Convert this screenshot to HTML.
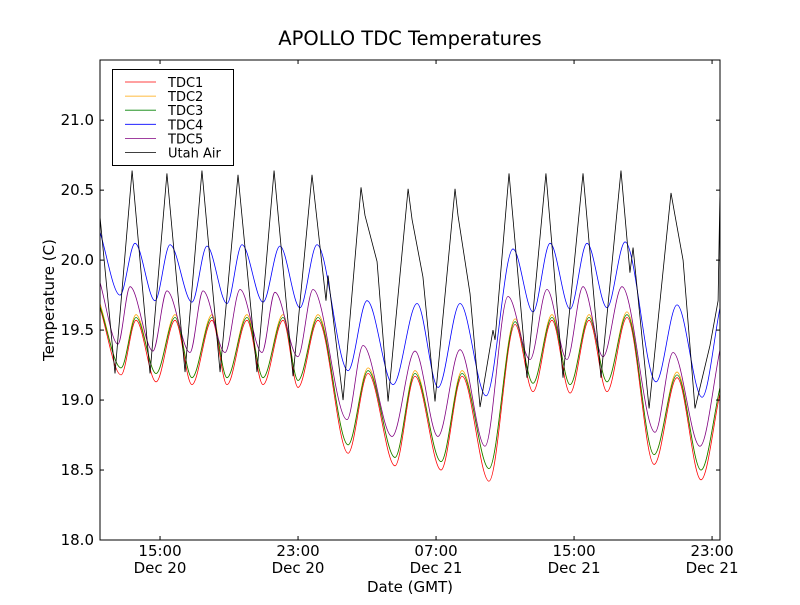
<!DOCTYPE html>
<html><head><meta charset="utf-8"><style>
body{margin:0;background:#fff;}
svg text{font-family:"DejaVu Sans","Liberation Sans",sans-serif;fill:#000;}
</style></head><body>
<svg id="chart" width="800" height="600" xmlns="http://www.w3.org/2000/svg">
<rect width="800" height="600" fill="#fff"/>
<text x="410" y="45" font-size="19.5" text-anchor="middle">APOLLO TDC Temperatures</text>
<text transform="translate(54,300) rotate(-90)" font-size="15" text-anchor="middle">Temperature (C)</text>
<text x="410" y="592" font-size="15" text-anchor="middle">Date (GMT)</text>
<g id="series"></g>
<g id="axes"></g>
<g id="legend"></g>
</svg>
<script>
const yTicks=[18.0,18.5,19.0,19.5,20.0,20.5,21.0];
const xTicks=[15,23,31,39,47];
const xTickTimes=["15:00","23:00","07:00","15:00","23:00"];
const xTickDays=["Dec 20","Dec 20","Dec 21","Dec 21","Dec 21"];
const seriesNames=["TDC1","TDC2","TDC3","TDC4","TDC5","Utah Air"];
const tdcT=[11.52,12.74,13.61,14.77,15.87,16.85,18.01,18.88,20.04,20.97,22.13,23.00,24.16,25.90,27.06,28.62,29.78,31.29,32.51,34.07,35.58,36.62,37.72,38.77,39.87,40.91,42.07,43.64,44.97,46.36,47.46];
const tdc1V=[19.66,19.18,19.57,19.13,19.57,19.11,19.57,19.11,19.57,19.11,19.57,19.09,19.57,18.62,19.19,18.53,19.17,18.50,19.17,18.42,19.54,19.06,19.57,19.05,19.57,19.06,19.59,18.54,19.16,18.43,19.05];
const tdc2V=[19.69,19.23,19.61,19.19,19.61,19.16,19.61,19.16,19.61,19.16,19.61,19.14,19.61,18.68,19.23,18.59,19.21,18.56,19.21,18.51,19.58,19.12,19.61,19.11,19.61,19.13,19.63,18.61,19.20,18.50,19.09];
const tdc3V=[19.67,19.23,19.59,19.19,19.59,19.16,19.59,19.16,19.59,19.16,19.59,19.14,19.59,18.68,19.21,18.59,19.19,18.56,19.19,18.51,19.56,19.12,19.59,19.11,19.59,19.13,19.61,18.61,19.18,18.50,19.09];
const tdc4T=[11.52,12.68,13.55,14.71,15.58,16.85,17.72,18.88,19.75,20.97,21.95,23.11,24.10,25.90,27.00,28.51,29.90,31.12,32.39,33.90,35.46,36.62,37.61,38.77,39.75,40.91,41.96,43.75,44.97,46.42,47.46];
const tdc4V=[20.20,19.75,20.12,19.71,20.11,19.70,20.10,19.69,20.11,19.70,20.10,19.66,20.11,19.21,19.71,19.11,19.69,19.09,19.69,19.03,20.08,19.63,20.12,19.65,20.12,19.66,20.13,19.13,19.68,19.02,19.66];
const tdc5T=[11.52,12.56,13.26,14.59,15.40,16.74,17.49,18.77,19.64,20.91,21.66,22.99,23.87,25.84,26.77,28.45,29.78,31.11,32.39,33.84,35.17,36.45,37.43,38.59,39.52,40.68,41.78,43.69,44.74,46.30,47.46];
const tdc5V=[19.84,19.40,19.81,19.35,19.78,19.34,19.78,19.34,19.79,19.34,19.77,19.31,19.79,18.86,19.39,18.74,19.35,18.74,19.36,18.67,19.74,19.29,19.79,19.29,19.81,19.31,19.81,18.77,19.34,18.67,19.36];
const airT=[11.52,12.39,13.38,14.42,15.40,16.45,17.43,18.48,19.52,20.62,21.61,22.71,23.81,24.62,24.74,25.61,26.65,26.88,27.58,28.22,29.38,29.61,30.24,30.94,32.10,32.27,32.97,33.55,34.30,34.42,35.23,36.27,37.37,38.36,39.52,40.56,41.72,42.24,42.42,43.35,44.62,44.85,45.32,46.01,46.88,47.35,47.46];
const airV=[20.31,19.19,20.64,19.19,20.62,19.20,20.64,19.20,20.61,19.20,20.64,19.17,20.61,19.71,19.89,19.00,20.52,20.32,19.99,18.99,20.51,20.29,19.88,18.99,20.51,20.32,19.76,18.95,19.50,19.43,20.62,19.16,20.62,19.16,20.62,19.16,20.64,19.91,20.09,18.94,20.48,20.32,20.00,18.94,19.39,19.71,20.50];

const PL=100,PR=720,PT=60,PB=540;
const X0=11.52,X1=47.46,Y0=18.0,Y1=21.43;
const sx=t=>PL+(t-X0)/(X1-X0)*(PR-PL);
const sy=v=>PB-(v-Y0)/(Y1-Y0)*(PB-PT);
const NS="http://www.w3.org/2000/svg";
function mk(tag,attrs,parent){const e=document.createElementNS(NS,tag);for(const k in attrs)e.setAttribute(k,attrs[k]);parent.appendChild(e);return e;}

function monotonePath(T,V){
  const xs=T.map(sx),ys=V.map(sy),n=xs.length;
  const d=[],m=new Array(n);
  for(let i=0;i<n-1;i++)d.push((ys[i+1]-ys[i])/(xs[i+1]-xs[i]));
  m[0]=d[0];m[n-1]=d[n-2];
  for(let i=1;i<n-1;i++){m[i]=(d[i-1]*d[i]<=0)?0:(d[i-1]+d[i])/2;}
  for(let i=0;i<n-1;i++){if(d[i]===0){m[i]=0;m[i+1]=0;continue;}
    const a=m[i]/d[i],b=m[i+1]/d[i],s=a*a+b*b;if(s>9){const t=3/Math.sqrt(s);m[i]=t*a*d[i];m[i+1]=t*b*d[i];}}
  let p="M"+xs[0].toFixed(2)+","+ys[0].toFixed(2);
  for(let i=0;i<n-1;i++){const h=(xs[i+1]-xs[i])/3;
    p+=" C"+(xs[i]+h).toFixed(2)+","+(ys[i]+m[i]*h).toFixed(2)+" "+(xs[i+1]-h).toFixed(2)+","+(ys[i+1]-m[i+1]*h).toFixed(2)+" "+xs[i+1].toFixed(2)+","+ys[i+1].toFixed(2);}
  return p;
}
function linePath(T,V){return T.map((t,i)=>(i?"L":"M")+sx(t).toFixed(2)+","+sy(V[i]).toFixed(2)).join(" ");}

const sg=document.getElementById("series");
const clip=mk("clipPath",{id:"pc"},sg);mk("rect",{x:PL,y:PT,width:PR-PL,height:PB-PT},clip);
const defs=[
 {name:"tdc1-line",d:monotonePath(tdcT,tdc1V),c:"#ff0000"},
 {name:"tdc2-line",d:monotonePath(tdcT,tdc2V),c:"#ffa500"},
 {name:"tdc3-line",d:monotonePath(tdcT,tdc3V),c:"#008000"},
 {name:"tdc4-line",d:monotonePath(tdc4T,tdc4V),c:"#0000ff"},
 {name:"tdc5-line",d:monotonePath(tdc5T,tdc5V),c:"#800080"},
 {name:"utah-air-line",d:linePath(airT,airV),c:"#000000"}];
const colors=defs.map(s=>s.c);
for(const s of defs){
  const p=mk("path",{d:s.d,fill:"none",stroke:s.c,"stroke-width":0.8,"clip-path":"url(#pc)"},sg);
  
  
}

const ag=document.getElementById("axes");
const frame=mk("rect",{x:PL,y:PT,width:PR-PL,height:PB-PT,fill:"none",stroke:"#000","stroke-width":1},ag);


yTicks.forEach(v=>{const y=sy(v);
  mk("line",{x1:PL,x2:PL+4,y1:y,y2:y,stroke:"#000"},ag);
  mk("line",{x1:PR-4,x2:PR,y1:y,y2:y,stroke:"#000"},ag);
  const t=mk("text",{x:PL-6,y:y+5,"font-size":15,"text-anchor":"end"},ag);t.textContent=v.toFixed(1);
  
  
});
xTicks.forEach((h,i)=>{const x=sx(h);
  mk("line",{x1:x,x2:x,y1:PB,y2:PB-4,stroke:"#000"},ag);
  mk("line",{x1:x,x2:x,y1:PT,y2:PT+4,stroke:"#000"},ag);
  const t=mk("text",{x:x,y:556,"font-size":15,"text-anchor":"middle"},ag);t.textContent=xTickTimes[i];
  
  
  const t2=mk("text",{x:x,y:573,"font-size":15,"text-anchor":"middle"},ag);t2.textContent=xTickDays[i];
  
  
});

const lg=document.getElementById("legend");
mk("rect",{x:112.5,y:69.5,width:121,height:96,fill:"#fff",stroke:"#000","stroke-width":1},lg);
seriesNames.forEach((n,i)=>{const y=82+i*14.1;
  const g=mk("g",{},lg);
  
  
  mk("line",{x1:125,x2:156,y1:y,y2:y,stroke:colors[i],"stroke-width":0.8},g);
  const t=mk("text",{x:168,y:y+5,"font-size":13},g);t.textContent=n;
});
</script>
</body></html>
